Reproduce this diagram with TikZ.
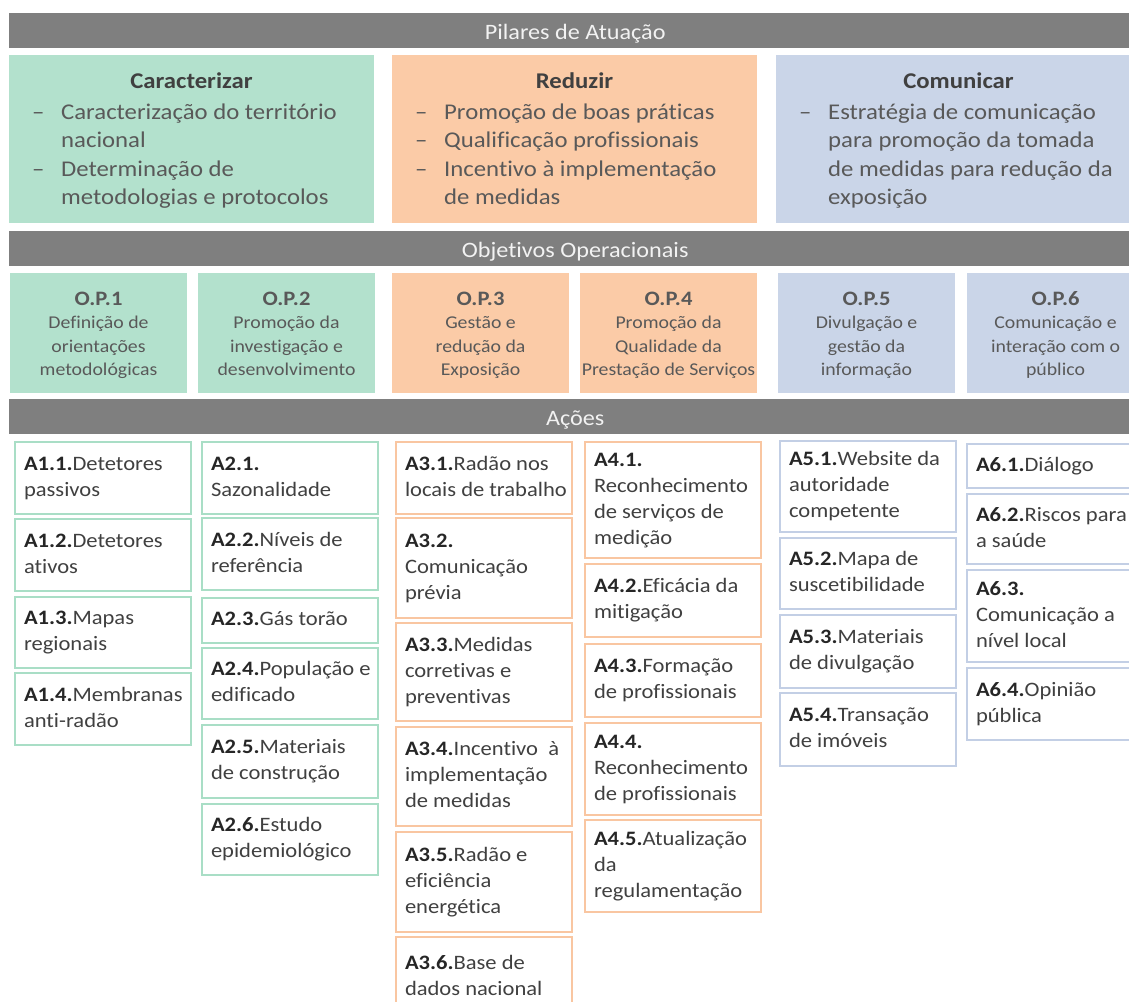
\documentclass[tikz,border=0pt]{standalone}
\usepackage{fontspec}
\setmainfont{Carlito}[FakeStretch=1.1, Ligatures={NoCommon}]
\usepackage{xcolor}
\usepackage{tikz}

\definecolor{barraC}{HTML}{7F7F7F}
\definecolor{textoBarra}{HTML}{F2F2F2}
\definecolor{verde}{HTML}{B3E1CD}
\definecolor{laranja}{HTML}{FBCBA7}
\definecolor{azul}{HTML}{CAD5E8}
\definecolor{verdeBorda}{HTML}{A9DEC6}
\definecolor{laranjaBorda}{HTML}{F9C6A1}
\definecolor{azulBorda}{HTML}{C3CFE5}
\definecolor{cinza}{HTML}{595959}
\definecolor{escuro}{HTML}{404040}
\definecolor{rotulo}{HTML}{262626}

\newcommand{\trav}{\makebox[29pt][l]{\textendash}}
\newcommand{\recuo}{\hspace*{29pt}}
\newcommand{\cod}[1]{{\color{rotulo}\bfseries #1}}
\newcommand{\caixa}[1]{\makebox[158pt][l]{\begin{tabular}{@{}l@{}}#1\end{tabular}}}
\newcommand{\titop}[1]{{\fontsize{20.5}{23.5}\selectfont\bfseries #1}}

\begin{document}
\begin{tikzpicture}[x=1pt, y=-1pt,
    barra/.style={fill=barraC, text=textoBarra, anchor=north west, minimum width=1132pt,
        minimum height=35pt, inner sep=0pt, text height=17pt, text depth=0pt,
        font=\fontsize{22}{26}\selectfont},
    pilar/.style={anchor=north west, minimum width=365pt, minimum height=168pt, inner sep=0pt},
    titpilar/.style={anchor=base, text=escuro, font=\fontsize{22.5}{27}\selectfont\bfseries},
    textopilar/.style={anchor=north west, inner sep=0pt, text=cinza, font=\fontsize{22.5}{28.5}\selectfont},
    opbox/.style={anchor=north west, minimum width=177pt, minimum height=120pt, inner sep=0pt},
    optexto/.style={anchor=north, inner sep=0pt, text=cinza, font=\fontsize{18}{23.5}\selectfont},
    acao/.style={anchor=north west, line width=2pt, fill=white, minimum width=176pt,
        inner xsep=9pt, inner ysep=0pt, text=escuro, font=\fontsize{20.5}{26}\selectfont},
    acaoV/.style={acao, draw=verdeBorda},
    acaoL/.style={acao, draw=laranjaBorda},
    acaoA/.style={acao, draw=azulBorda}
]
    \useasboundingbox (0,0) rectangle (1129,1001);
    \clip (0,0) rectangle (1129,1001);
    \fill[white] (0,0) rectangle (1129,1001);

    % pilares
    \node[barra] (pilares) at (9,13) {Pilares de Atuação};
    \node[pilar, fill=verde] (caracterizar) at (9,55) {};
    \node[pilar, fill=laranja] (reduzir) at (392,55) {};
    \node[pilar, fill=azul] (comunicar) at (776,55) {};
    \node[titpilar] (caracterizarT) at (191.5,88) {Caracterizar};
    \node[titpilar] (reduzirT) at (574.5,88) {Reduzir};
    \node[titpilar] (comunicarT) at (958.5,88) {Comunicar};
    \node[textopilar] (caracterizarL) at (32,99) {\begin{tabular}{@{}l@{}}
        \trav Caracterização do território\\ \recuo nacional\\
        \trav Determinação de\\ \recuo metodologias e protocolos\end{tabular}};
    \node[textopilar] (reduzirL) at (415,99) {\begin{tabular}{@{}l@{}}
        \trav Promoção de boas práticas\\ \trav Qualificação profissionais\\
        \trav Incentivo à implementação\\ \recuo de medidas\end{tabular}};
    \node[textopilar] (comunicarL) at (799,99) {\begin{tabular}{@{}l@{}}
        \trav Estratégia de comunicação\\ \recuo para promoção da tomada\\
        \recuo de medidas para redução da\\ \recuo exposição\end{tabular}};

    % objetivos operacionais
    \node[barra] (objetivos) at (9,231) {Objetivos Operacionais};
    \node[opbox, fill=verde] (op1) at (10,273) {};
    \node[opbox, fill=verde] (op2) at (198,273) {};
    \node[opbox, fill=laranja] (op3) at (392,273) {};
    \node[opbox, fill=laranja] (op4) at (580,273) {};
    \node[opbox, fill=azul] (op5) at (778,273) {};
    \node[opbox, fill=azul] (op6) at (967,273) {};
    \node[optexto] (op1T) at (98.5,288.5) {\begin{tabular}{@{}c@{}}\titop{O.P.1}\\Definição de\\orientações\\metodológicas\end{tabular}};
    \node[optexto] (op2T) at (286.5,288.5) {\begin{tabular}{@{}c@{}}\titop{O.P.2}\\Promoção da\\investigação e\\desenvolvimento\end{tabular}};
    \node[optexto] (op3T) at (480.5,288.5) {\begin{tabular}{@{}c@{}}\titop{O.P.3}\\Gestão e\\redução da\\Exposição\end{tabular}};
    \node[optexto] (op4T) at (668.5,288.5) {\begin{tabular}{@{}c@{}}\titop{O.P.4}\\Promoção da\\Qualidade da\\Prestação de Serviços\end{tabular}};
    \node[optexto] (op5T) at (866.5,288.5) {\begin{tabular}{@{}c@{}}\titop{O.P.5}\\Divulgação e\\gestão da\\informação\end{tabular}};
    \node[optexto] (op6T) at (1055.5,288.5) {\begin{tabular}{@{}c@{}}\titop{O.P.6}\\Comunicação e\\interação com o\\público\end{tabular}};

    % acoes
    \node[barra] (acoes) at (9,399) {Ações};

    \node[acaoV, minimum height=72pt] (a11) at (14,441) {\caixa{\cod{A1.1.}Detetores\\passivos}};
    \node[acaoV, minimum height=72pt] (a12) at (14,518) {\caixa{\cod{A1.2.}Detetores\\ativos}};
    \node[acaoV, minimum height=71pt] (a13) at (14,596) {\caixa{\cod{A1.3.}Mapas\\regionais}};
    \node[acaoV, minimum height=72pt] (a14) at (14,672) {\caixa{\cod{A1.4.}Membranas\\anti-radão}};

    \node[acaoV, minimum height=72pt] (a21) at (201,441) {\caixa{\cod{A2.1.}\\Sazonalidade}};
    \node[acaoV, minimum height=72pt] (a22) at (201,517) {\caixa{\cod{A2.2.}Níveis de\\referência}};
    \node[acaoV, minimum height=45pt] (a23) at (201,597) {\caixa{\cod{A2.3.}Gás torão}};
    \node[acaoV, minimum height=71pt] (a24) at (201,647) {\caixa{\cod{A2.4.}População e\\edificado}};
    \node[acaoV, minimum height=73pt] (a25) at (201,724) {\caixa{\cod{A2.5.}Materiais\\de construção}};
    \node[acaoV, minimum height=71pt] (a26) at (201,803) {\caixa{\cod{A2.6.}Estudo\\epidemiológico}};

    \node[acaoL, minimum height=72pt] (a31) at (395,441) {\caixa{\cod{A3.1.}Radão nos\\locais de trabalho}};
    \node[acaoL, minimum height=100pt] (a32) at (395,517) {\caixa{\cod{A3.2.}\\Comunicação\\prévia}};
    \node[acaoL, minimum height=98pt] (a33) at (395,622) {\caixa{\cod{A3.3.}Medidas\\corretivas e\\preventivas}};
    \node[acaoL, minimum height=99pt] (a34) at (395,726) {\caixa{\cod{A3.4.}Incentivo\ \ à\\implementação\\de medidas}};
    \node[acaoL, minimum height=100pt] (a35) at (395,831) {\caixa{\cod{A3.5.}Radão e\\eficiência\\energética}};
    \node[acaoL, minimum height=80pt] (a36) at (395,936) {\caixa{\cod{A3.6.}Base de\\dados nacional}};

    \node[acaoL, minimum height=116pt] (a41) at (584,441) {\caixa{\cod{A4.1.}\\Reconhecimento\\de serviços de\\medição}};
    \node[acaoL, minimum height=73pt] (a42) at (584,563) {\caixa{\cod{A4.2.}Eficácia da\\mitigação}};
    \node[acaoL, minimum height=73pt] (a43) at (584,643) {\caixa{\cod{A4.3.}Formação\\de profissionais}};
    \node[acaoL, minimum height=92pt] (a44) at (584,722) {\caixa{\cod{A4.4.}\\Reconhecimento\\de profissionais}};
    \node[acaoL, minimum height=92pt] (a45) at (584,819) {\caixa{\cod{A4.5.}Atualização\\da\\regulamentação}};

    \node[acaoA, minimum height=91pt] (a51) at (779,440) {\caixa{\cod{A5.1.}Website da\\autoridade\\competente}};
    \node[acaoA, minimum height=71pt] (a52) at (779,537) {\caixa{\cod{A5.2.}Mapa de\\suscetibilidade}};
    \node[acaoA, minimum height=73pt] (a53) at (779,614) {\caixa{\cod{A5.3.}Materiais\\de divulgação}};
    \node[acaoA, minimum height=73pt] (a54) at (779,692) {\caixa{\cod{A5.4.}Transação\\de imóveis}};

    \node[acaoA, minimum height=44pt] (a61) at (966,443) {\caixa{\cod{A6.1.}Diálogo}};
    \node[acaoA, minimum height=70pt] (a62) at (966,493) {\caixa{\cod{A6.2.}Riscos para\\a saúde}};
    \node[acaoA, minimum height=92pt] (a63) at (966,569) {\caixa{\cod{A6.3.}\\Comunicação a\\nível local}};
    \node[acaoA, minimum height=72pt] (a64) at (966,667) {\caixa{\cod{A6.4.}Opinião\\pública}};
\end{tikzpicture}
\end{document}
